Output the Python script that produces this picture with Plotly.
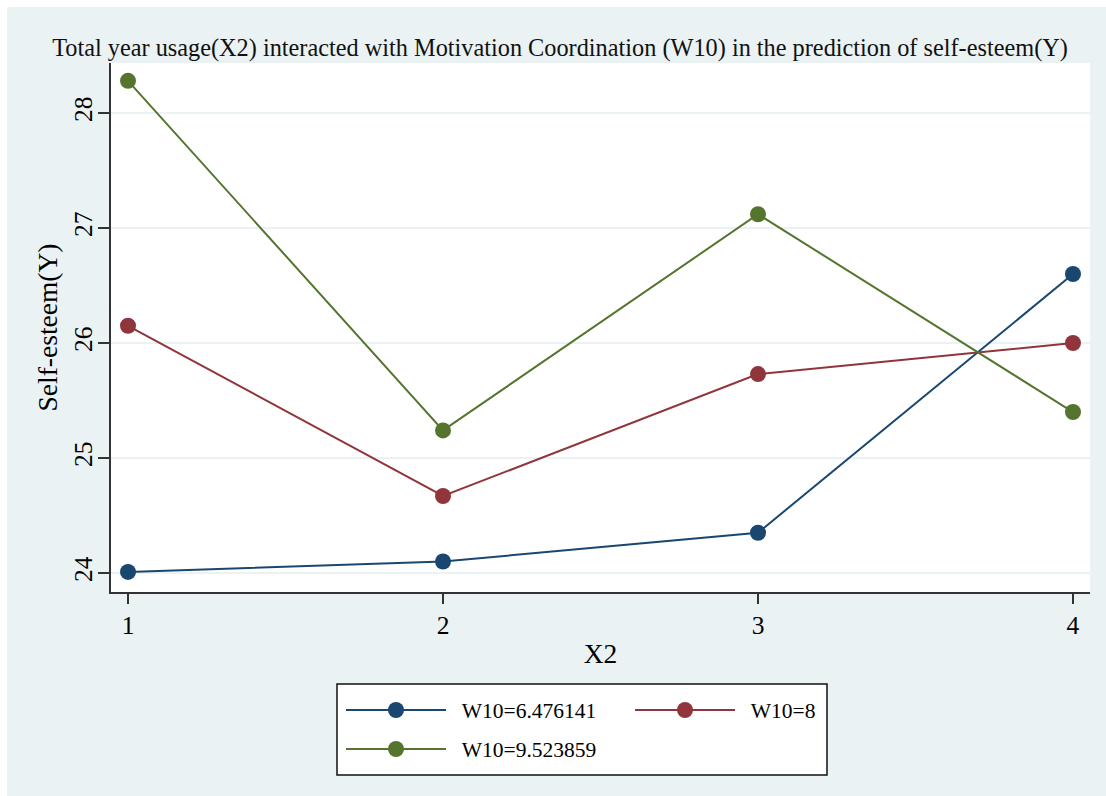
import plotly.graph_objects as go

# Predicted self-esteem at each level of total year usage, by motivation coordination
x2_levels = [1, 2, 3, 4]
series_names = ["W10=6.476141", "W10=8", "W10=9.523859"]
y_low = [24.01, 24.10, 24.35, 26.60]
y_mid = [26.15, 24.67, 25.73, 26.00]
y_high = [28.28, 25.24, 27.12, 25.40]
y_ticks = [24, 25, 26, 27, 28]

colors = ["#1a476f", "#90353b", "#55752f"]
legend_slots = ["legend", "legend", "legend2"]
BG = "#eaf2f3"
FONT = "Liberation Serif"
GAP = "\u00a0\u00a0"

W, H = 1106, 796
ml, mr, mt, mb = 111, 16, 63, 204
pw, ph = W - ml - mr, H - mt - mb


def px_x(p):
    return (p - ml) / pw


def px_y(p):
    return (H - mb - p) / ph


fig = go.Figure()
for name, ys, c, lg in zip(series_names, [y_low, y_mid, y_high], colors, legend_slots):
    fig.add_trace(go.Scatter(
        x=x2_levels, y=ys, name=GAP + name, mode="lines+markers",
        line=dict(color=c, width=2),
        marker=dict(color=c, size=16, symbol="circle"),
        legend=lg,
    ))

shapes = [
    # thin white strips along the top and left edges of the graph region
    dict(type="rect", xref="paper", yref="paper", x0=px_x(0), x1=px_x(W), y0=px_y(7), y1=px_y(0),
         fillcolor="white", line_width=0, layer="below"),
    dict(type="rect", xref="paper", yref="paper", x0=px_x(0), x1=px_x(7), y0=px_y(H), y1=px_y(0),
         fillcolor="white", line_width=0, layer="below"),
    # legend frame
    dict(type="rect", xref="paper", yref="paper", x0=px_x(337), x1=px_x(827), y0=px_y(775), y1=px_y(684),
         fillcolor="white", line=dict(color="#111111", width=1.5), layer="below"),
]

legend_common = dict(
    orientation="h", xanchor="left", yanchor="middle",
    bgcolor="rgba(0,0,0,0)", borderwidth=0,
    font=dict(family=FONT, size=21.5, color="black"),
    itemwidth=100, entrywidth=174, entrywidthmode="pixels",
    traceorder="normal",
)

fig.update_layout(
    width=W, height=H,
    margin=dict(l=ml, r=mr, t=mt, b=mb),
    paper_bgcolor=BG, plot_bgcolor="white",
    font=dict(family=FONT, size=20, color="black"),
    title=dict(
        text="Total year usage(X2) interacted with Motivation Coordination (W10) in the prediction of self-esteem(Y)",
        x=(52 + 1068) / 2 / W, xanchor="center", y=1 - 47 / H, yanchor="middle",
        font=dict(family=FONT, size=24.3, color="#111111"),
    ),
    shapes=shapes,
    showlegend=True,
    legend=dict(x=px_x(341), y=px_y(710), **legend_common),
    legend2=dict(x=px_x(341), y=px_y(749), **legend_common),
)

fig.update_xaxes(
    range=[0.946, 4.054], tickvals=x2_levels, ticktext=[str(v) for v in x2_levels],
    showline=True, linecolor="#333333", linewidth=1.5,
    ticks="outside", ticklen=10, tickwidth=1.5, tickcolor="#333333",
    showgrid=False, zeroline=False,
    title=dict(text="X2", standoff=4, font=dict(family=FONT, size=27.5)),
    tickfont=dict(family=FONT, size=25.5),
)
fig.update_yaxes(
    range=[23.835, 28.435], tickvals=y_ticks, ticktext=[str(v) for v in y_ticks],
    showline=True, linecolor="#333333", linewidth=1.5,
    ticks="outside", ticklen=11, tickwidth=1.5, tickcolor="#333333",
    showgrid=True, gridcolor=BG, gridwidth=2, zeroline=False,
    tickangle=-90, ticklabelstandoff=-4,
    title=dict(text="Self-esteem(Y)", standoff=3, font=dict(family=FONT, size=27.5)),
    tickfont=dict(family=FONT, size=25.5),
)

fig.write_html("out.html")
